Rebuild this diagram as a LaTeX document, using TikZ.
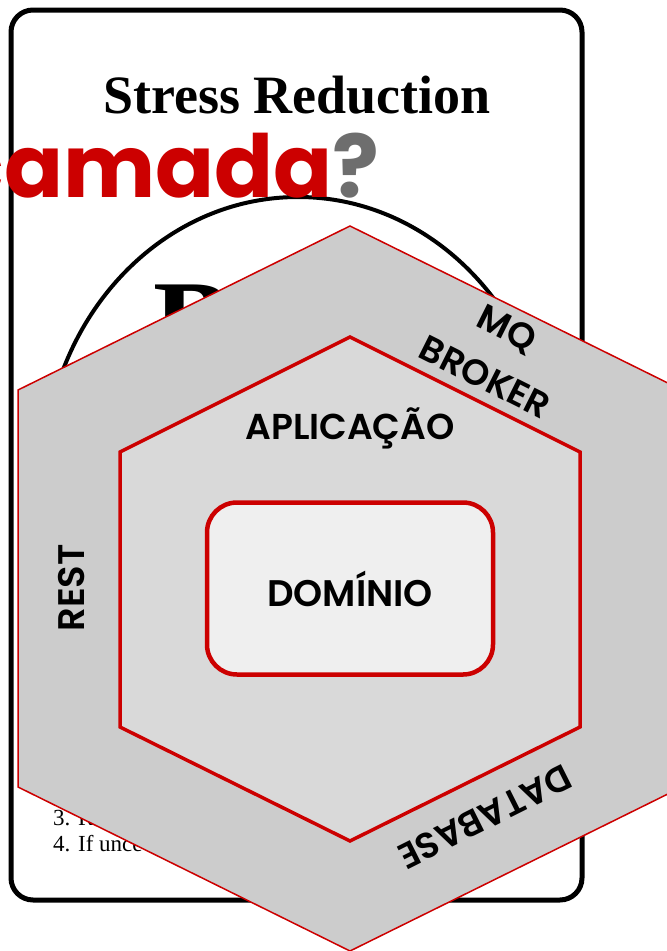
\documentclass[tikz,border=0pt]{standalone}
\usepackage{fontspec}
\setmainfont{Liberation Serif}
\newfontfamily\pop{Poppins}[UprightFont={* SemiBold}, BoldFont={* Bold}]
\definecolor{camred}{HTML}{CC0000}
\definecolor{qgray}{HTML}{6E6E6E}
\definecolor{outgray}{HTML}{CCCCCC}
\definecolor{ingray}{HTML}{D9D9D9}
\definecolor{domgray}{HTML}{EFEFEF}
\tikzset{
  cardline/.style={line width=5pt, rounded corners=22pt},
  hexouter/.style={fill=outgray, draw=camred, line width=1.5pt},
  hexinner/.style={fill=ingray, draw=camred, line width=3.5pt},
  domainbox/.style={fill=domgray, draw=camred, line width=4.5pt, rounded corners=30pt,
    minimum width=286pt, minimum height=172pt, inner sep=0pt},
  lbl/.style={font=\pop\fontsize{36}{40}\selectfont, inner sep=0pt},
  bodytxt/.style={font=\fontsize{23}{26}\selectfont, inner sep=0pt, anchor=base west}
}
\begin{document}
\begin{tikzpicture}[x=1pt,y=-1pt]
\useasboundingbox (0,0) rectangle (667,951);
\clip (0,0) rectangle (667,951);
% card
\draw[cardline] (11,10) rectangle (582,900);
\node[anchor=base, inner sep=0pt, font=\bfseries\fontsize{54}{60}\selectfont] (title) at (297,113) {Stress Reduction};
\draw[line width=4pt] (298,480) ellipse [x radius=255, y radius=283];
\node[anchor=north west, inner sep=0pt, font=\bfseries\fontsize{120}{120}\selectfont] (bigb) at (153,285) {B};
\node[bodytxt] (l3) at (53,825) {3. R};
\node[bodytxt] (l4) at (53,851) {4. If unce};
% camada
\node[anchor=base east, inner sep=0pt, text=camred, font=\pop\bfseries\fontsize{87}{90}\selectfont] (camada) at (380,197) {camada\textcolor{qgray}{?}};
% hexagons
\draw[hexouter] (350,226) -- (682,390) -- (682,787) -- (350,951) -- (18,787) -- (18,390) -- cycle;
\draw[hexinner] (350,337) -- (580,452) -- (580,727) -- (350,841) -- (120,727) -- (120,452) -- cycle;
\node[domainbox, lbl, font=\pop\fontsize{37}{40}\selectfont] (dom) at (350,588.5) {DOMÍNIO};
\node[lbl, anchor=base] (apl) at (350,439) {APLICAÇÃO};
\node[lbl, rotate=90, font=\pop\fontsize{37}{40}\selectfont] (rest) at (72,588) {REST};
\node[lbl, rotate=-26.6] (mq) at (506,330) {MQ};
\node[lbl, rotate=-26.6] (broker) at (485,377) {BROKER};
\node[lbl, rotate=206.6] (db) at (485,817) {DATABASE};
\end{tikzpicture}
\end{document}
